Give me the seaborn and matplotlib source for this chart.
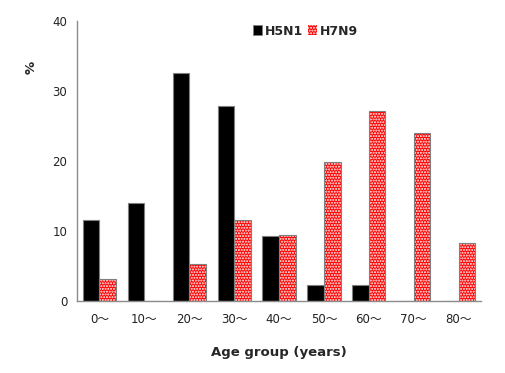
import matplotlib
matplotlib.use("Agg")
import matplotlib.pyplot as plt
import matplotlib.patches as mpatches
import seaborn as sns
import pandas as pd

categories = ["0～", "10～", "20～", "30～", "40～", "50～", "60～", "70～", "80～"]
h5n1 = [11.6, 14.0, 32.6, 27.9, 9.3, 2.3, 2.3, 0.0, 0.0]
h7n9 = [3.1, 0.0, 5.2, 11.5, 9.4, 19.8, 27.1, 24.0, 8.3]
series = ["H5N1", "H7N9"]
y_ticks = [0, 10, 20, 30, 40]

sns.set_style("white")
plt.rcParams['font.family'] = ['DejaVu Sans', 'Noto Sans CJK JP']

df = pd.DataFrame({
    "Age": categories * 2,
    "Value": h5n1 + h7n9,
    "Virus": [series[0]] * len(categories) + [series[1]] * len(categories),
})

fig = plt.figure(figsize=(5.05, 3.73), dpi=100)
ax = fig.add_axes([0.1525, 0.194, 0.80, 0.7497])

sns.barplot(data=df, x="Age", y="Value", hue="Virus", order=categories,
            hue_order=series, palette={"H5N1": "black", "H7N9": "#ff0000"},
            width=0.74, saturation=1, ax=ax, legend=False,
            edgecolor="#7f7f7f", linewidth=0.8)

# style the H7N9 bars: red with white dots, gray outline
red_container = ax.containers[1]
for p in red_container.patches:
    p.set_edgecolor("white")
    p.set_hatch("......")
    p.set_linewidth(0)
    outline = mpatches.Rectangle(p.get_xy(), p.get_width(), p.get_height(),
                                 fill=False, edgecolor="#7f7f7f", linewidth=0.8)
    ax.add_patch(outline)
for p in ax.containers[0].patches:
    p.set_edgecolor("#7f7f7f")

ax.set_ylim(0, 40)
ax.set_xlim(-0.5, len(categories) - 0.5)
ax.set_yticks(y_ticks)
ax.set_yticklabels([str(t) for t in y_ticks], fontsize=8.5, color="#222222")
ax.set_xticks(range(len(categories)))
ax.set_xticklabels(categories, fontsize=8.5, color="#222222")
ax.set_xticks([i - 0.5 for i in range(len(categories) + 1)], minor=True)
ax.tick_params(axis="x", which="major", length=0, pad=9)
ax.tick_params(axis="x", which="minor", length=4, color="#8c8c8c", direction="out")
ax.tick_params(axis="y", which="major", length=4, color="#8c8c8c", direction="out", pad=3)

for s in ["top", "right"]:
    ax.spines[s].set_visible(False)
for s in ["left", "bottom"]:
    ax.spines[s].set_color("#8c8c8c")
    ax.spines[s].set_linewidth(1)

ax.set_xlabel("Age group (years)", fontsize=9.5, fontweight="bold", labelpad=14)
ax.set_ylabel("%", fontsize=9.5, fontweight="bold", rotation=90)
ax.yaxis.set_label_coords(-0.097, 0.835)

handles = [
    mpatches.Patch(facecolor="black", edgecolor="#7f7f7f", linewidth=0.6, label="H5N1"),
    mpatches.Patch(facecolor="#ff0000", edgecolor="white", hatch="......", linewidth=0, label="H7N9"),
]
leg = ax.legend(handles=handles, loc="center", bbox_to_anchor=(0.565, 0.964), ncol=2,
                frameon=False, handlelength=0.75, handleheight=0.9, handletextpad=0.2,
                columnspacing=0.35, prop={"weight": "bold", "size": 9})

fig.savefig("out.png", dpi=100)
